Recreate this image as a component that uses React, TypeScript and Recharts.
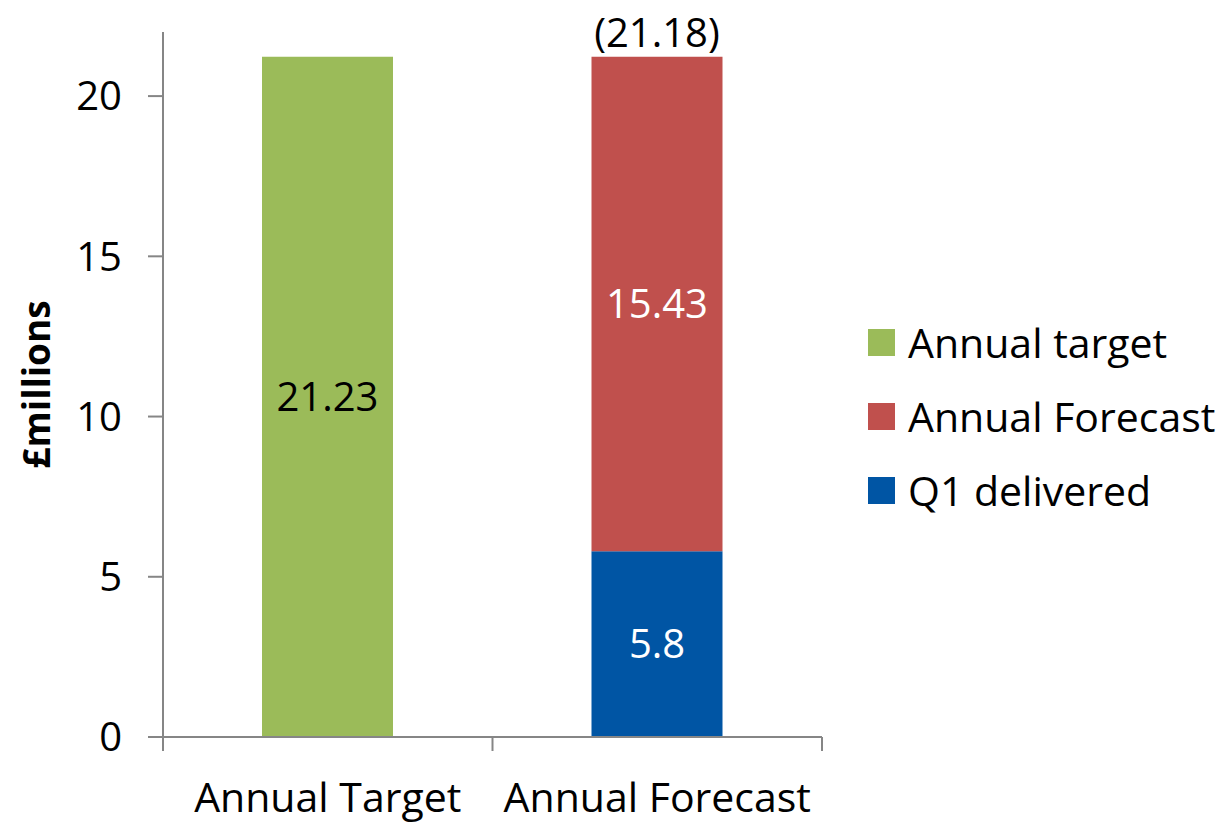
import { BarChart, Bar, XAxis, YAxis, LabelList } from 'recharts';

const CATEGORIES = ['Annual Target', 'Annual Forecast'];
const ANNUAL_TARGET = [21.23, null];
const Q1_DELIVERED = [null, 5.8];
const ANNUAL_FORECAST = [null, 15.43];
const REPORTED_TOTAL = [null, 21.18];
const Y_TICKS = [0, 5, 10, 15, 20];

const LEGEND_ITEMS = [
  { label: 'Annual target', color: '#9BBB59' },
  { label: 'Annual Forecast', color: '#C0504D' },
  { label: 'Q1 delivered', color: '#0055A4' },
];

const data = CATEGORIES.map((name, i) => ({
  name,
  target: ANNUAL_TARGET[i],
  q1: Q1_DELIVERED[i],
  forecast: ANNUAL_FORECAST[i],
  reported: REPORTED_TOTAL[i],
}));

const W = 1231;
const H = 823;
const MARGIN = { top: 32, right: 409, bottom: 0, left: 0 };
const X_HEIGHT = 86;
const Y_WIDTH = 163;
const BAND = (W - MARGIN.left - MARGIN.right - Y_WIDTH) / CATEGORIES.length;
const FONT = '"Open Sans", sans-serif';
const AXIS = '#868686';

function CategoryTick({ x, y, payload, index }: { x: number; y: number; payload: { value: string }; index: number }) {
  return (
    <g>
      {index === 0 && <line x1={x - BAND / 2} x2={x - BAND / 2} y1={y} y2={y + 14} stroke={AXIS} strokeWidth={2} />}
      <line x1={x + BAND / 2} x2={x + BAND / 2} y1={y} y2={y + 14} stroke={AXIS} strokeWidth={2} />
      <text x={x} y={y + 75} textAnchor="middle" fontSize={41} fill="#000" fontFamily={FONT}>
        {payload.value}
      </text>
    </g>
  );
}

function LegendBox() {
  return (
    <div style={{ position: 'absolute', left: 868, top: 305, fontFamily: FONT, fontSize: 41, color: '#000' }}>
      {LEGEND_ITEMS.map((it) => (
        <div key={it.label} style={{ display: 'flex', alignItems: 'center', height: 74 }}>
          <span style={{ width: 27, height: 27, background: it.color, marginRight: 13, display: 'inline-block' }} />
          <span style={{ whiteSpace: 'nowrap' }}>{it.label}</span>
        </div>
      ))}
    </div>
  );
}

export default function App() {
  return (
    <div style={{ position: 'relative', width: W, height: H, background: '#fff' }}>
      <style>{`body{margin:0}`}</style>
      <BarChart width={W} height={H} data={data} margin={MARGIN}>
        <XAxis
          dataKey="name"
          stroke={AXIS}
          strokeWidth={2}
          tickLine={false}
          tickSize={0}
          tickMargin={0}
          tick={(p: any) => <CategoryTick {...p} />}
          interval={0}
          height={X_HEIGHT}
        />
        <YAxis
          domain={[0, 22]}
          ticks={Y_TICKS}
          width={Y_WIDTH}
          stroke={AXIS}
          strokeWidth={2}
          tickSize={15}
          tickMargin={26}
          tick={{ fontSize: 40, fill: '#000', fontFamily: FONT }}
          label={{
            content: ({ viewBox }: any) => {
              const cy = viewBox.y + viewBox.height / 2;
              return (
                <text
                  x={50}
                  y={cy}
                  transform={`rotate(-90, 50, ${cy})`}
                  textAnchor="middle"
                  fontSize={37}
                  fontWeight="bold"
                  fontFamily={FONT}
                  fill="#000"
                >
                  £millions
                </text>
              );
            },
          }}
        />
        <Bar dataKey="target" stackId="a" fill="#9BBB59" barSize={131} isAnimationActive={false}>
          <LabelList dataKey="target" position="center" fill="#000" fontSize={40} fontFamily={FONT} />
        </Bar>
        <Bar dataKey="q1" stackId="a" fill="#0055A4" barSize={131} isAnimationActive={false}>
          <LabelList dataKey="q1" position="center" fill="#fff" fontSize={40} fontFamily={FONT} />
        </Bar>
        <Bar dataKey="forecast" stackId="a" fill="#C0504D" barSize={131} isAnimationActive={false}>
          <LabelList dataKey="forecast" position="center" fill="#fff" fontSize={40} fontFamily={FONT} />
          <LabelList
            dataKey="reported"
            position="top"
            offset={10}
            fill="#000"
            fontSize={40}
            fontFamily={FONT}
            formatter={(v: any) => (v == null ? '' : `(${v})`)}
          />
        </Bar>
      </BarChart>
      <LegendBox />
    </div>
  );
}
